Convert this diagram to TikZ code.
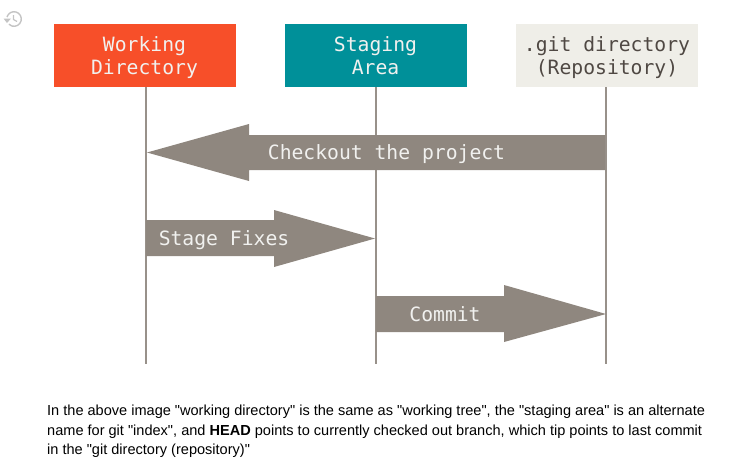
\documentclass[tikz,border=0pt]{standalone}
\usepackage{fontspec}
\newfontfamily\capfont{Liberation Sans}
\newfontfamily\dmono{DejaVu Sans Mono}
\definecolor{orangeb}{HTML}{F74F29}
\definecolor{tealb}{HTML}{009099}
\definecolor{creamb}{HTML}{EFEEE8}
\definecolor{greyb}{HTML}{8F877F}
\definecolor{linec}{HTML}{98918A}
\definecolor{darktx}{HTML}{4F4843}
\definecolor{lighttx}{HTML}{F1F1EF}
\definecolor{iconc}{HTML}{C4C4C4}
\tikzset{
  x=1pt,y=-1pt,
  boxnode/.style={inner sep=0pt,align=center,
    font=\dmono\fontsize{19.7}{23}\selectfont,text=lighttx},
  boxback/.style={minimum width=182pt,minimum height=63pt,inner sep=0pt},
  lifeline/.style={draw=linec,line width=1.5pt},
  bigarrow/.style={fill=greyb,draw=none},
  arrowtext/.style={font=\dmono\fontsize{19.7}{23}\selectfont,text=lighttx,inner sep=0pt},
  para/.style={font=\capfont\fontsize{14.55}{19.5}\selectfont,text=black,anchor=base west,inner sep=0pt}
}
\begin{document}
\begin{tikzpicture}
\useasboundingbox (0,0) rectangle (735,461);
\node[boxback,fill=orangeb] (wd) at (144.5,55.5) {};
\node[boxback,fill=tealb] (sa) at (375.5,55.5) {};
\node[boxback,fill=creamb] (gd) at (607,55.5) {};
\node[boxnode] (wdt) at (144.5,58) {Working\\Directory};
\node[boxnode] (sat) at (375.5,55.5) {Staging\\Area};
\node[boxnode,text=darktx] (gdt) at (607,57.5) {.git directory\\(Repository)};
\coordinate (wdend) at (146,364);
\coordinate (saend) at (376,364);
\coordinate (gdend) at (606,364);
\draw[lifeline] (wd.south -| wdend) -- (wdend);
\draw[lifeline] (sa.south -| saend) -- (saend);
\draw[lifeline] (gd.south -| gdend) -- (gdend);
% arrows
\fill[bigarrow] (605,135) -- (249,135) -- (249,124) -- (147,152.5) -- (249,181) -- (249,170) -- (605,170) -- cycle;
\fill[bigarrow] (146,220) -- (274,220) -- (274,210) -- (375,238.5) -- (274,267) -- (274,256) -- (146,256) -- cycle;
\fill[bigarrow] (376,296) -- (504,296) -- (504,285) -- (606,314) -- (504,342) -- (504,332) -- (376,332) -- cycle;
\node[arrowtext] (co) at (386.5,154) {Checkout the project};
\node[arrowtext] (sf) at (224,240) {Stage Fixes};
\node[arrowtext] (cm) at (445,314) {Commit};
% history icon
\draw[iconc,line width=1.4pt] (7,17) arc[start angle=196,end angle=495,radius=7.3];
\fill[iconc] (3.5,18.5) -- (11,18.5) -- (7,23) -- cycle;
\draw[iconc,line width=1.2pt] (13.5,15) -- (13.5,19.5) -- (17,21.5);
% caption
\node[para] (l1) at (47,415) {In the above image "working directory" is the same as "working tree", the "staging area" is an alternate};
\node[para] (l2) at (47,435) {name for git "index", and \textbf{HEAD} points to currently checked out branch, which tip points to last commit};
\node[para] (l3) at (47,454.5) {in the "git directory (repository)"};
\end{tikzpicture}
\end{document}
